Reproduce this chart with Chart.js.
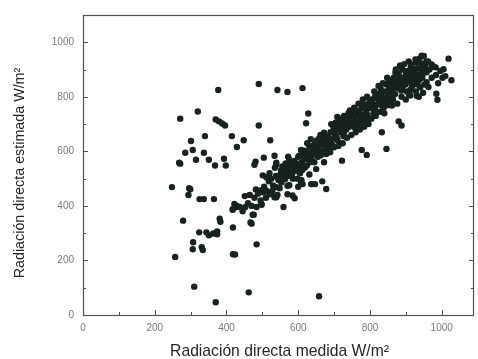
<!DOCTYPE html>
<html>
<head>
<meta charset="utf-8">
<script src="https://cdn.jsdelivr.net/npm/chart.js@4"></script>
<style>
  body { margin: 0; background: #fff; }
  #wrap { width: 478px; height: 359px; }
</style>
</head>
<body>
<div id="wrap"><canvas id="radiacion" width="478" height="359"></canvas></div>
<script>
// radiacion directa medida (x) vs estimada (y), W/m2
var medida = [
  271, 320, 377, 370, 379, 388, 396, 415, 429, 340, 301, 285, 306, 337, 315, 351, 393, 268, 368, 398,
  248, 299, 294, 325, 337, 365, 279, 307, 306, 331, 334, 257, 324, 344, 351, 363, 374, 374, 381, 383,
  418, 418, 424, 310, 370, 417, 422, 429, 451, 437, 467, 476, 484, 498, 484, 462, 658, 497, 505, 525,
  539, 539, 559, 570, 584, 590, 608, 636, 647, 678, 490, 542, 570, 612, 628, 622, 490, 448, 522, 504,
  478, 534, 539, 575, 722, 791, 846, 777, 833, 888, 880, 1019, 1027, 1010, 988, 985, 501, 520, 542, 567,
  553, 575, 501, 520, 534, 542, 570, 418, 473, 470, 296, 271, 428, 511, 639, 667, 631, 481, 539, 603,
  617, 631, 653, 603, 497, 497, 547, 609,
  // nube central
  445, 452, 460, 470, 478, 488, 495, 500, 482, 465,
  505, 512, 518, 525, 530, 538, 545, 552, 558, 520, 535, 548, 556, 510, 528,
  562, 568, 575, 580, 586, 590, 595, 600, 605, 610, 615, 618, 572, 598, 608, 585, 600, 612,
  622, 628, 632, 638, 642, 648, 652, 655, 660, 665, 670, 675, 678, 625, 645, 662, 672, 680, 650, 635,
  682, 686, 690, 694, 698, 702, 706, 710, 714, 718, 722, 726, 730, 734, 738, 688, 700, 712, 724, 736, 692, 704, 716, 728, 740,
  742, 746, 750, 754, 758, 762, 766, 770, 774, 778, 782, 786, 790, 794, 798, 748, 760, 772, 784, 796, 756, 768, 780, 792, 744,
  802, 806, 810, 814, 818, 822, 826, 830, 834, 838, 842, 846, 850, 854, 858, 804, 816, 828, 840, 852, 812, 824, 836, 848, 856, 860,
  862, 866, 870, 874, 878, 882, 886, 890, 894, 898, 902, 906, 910, 914, 918, 864, 876, 888, 900, 912, 872, 884, 896, 908, 920,
  922, 926, 930, 934, 938, 942, 946, 950, 954, 958, 928, 940, 952, 936, 948,
  944, 927, 916, 972, 983, 1005, 958, 963, 941, 899, 880, 866, 852, 833, 825, 844, 861, 908, 930, 916,
  962, 966, 972, 978, 984, 990, 996, 1002,
  604, 617, 629, 643, 657, 669, 683, 697, 611, 624, 637, 651, 663, 676, 689, 633, 646, 659, 672, 694,
  707, 713, 721, 727, 733, 741, 749, 757, 763, 771, 779, 787, 793, 799, 709, 731, 753, 767, 789, 777,
  807, 813, 821, 829, 833, 843, 849, 857, 863, 869, 877, 883, 891, 897, 817, 839, 853, 871, 887, 899,
  903, 909, 917, 923, 931, 937, 943, 951, 957, 913, 933, 947,
  563, 571, 579, 589, 597, 583, 565
];
var estimada = [
  720, 746, 825, 717, 710, 702, 695, 656, 616, 656, 638, 595, 605, 595, 569, 569, 573, 558, 548, 548,
  469, 461, 440, 425, 425, 425, 346, 267, 241, 249, 238, 213, 303, 303, 292, 299, 306, 296, 353, 342,
  321, 223, 222, 104, 47, 386, 407, 400, 436, 396, 339, 368, 396, 404, 259, 83, 69, 453, 453, 448,
  432, 469, 396, 474, 438, 428, 487, 480, 480, 462, 847, 825, 818, 832, 739, 703, 695, 641, 641, 577,
  551, 584, 558, 569, 566, 587, 609, 605, 670, 695, 710, 940, 861, 876, 789, 811, 512, 497, 504, 515,
  486, 476, 450, 443, 432, 440, 443, 389, 368, 335, 465, 555, 396, 505, 480, 490, 515, 562, 551, 584,
  602, 620, 631, 548, 458, 407, 512, 494,
  // nube central
  380, 395, 410, 400, 430, 445, 420, 455, 460, 440,
  470, 455, 490, 500, 475, 510, 495, 530, 505, 520, 540, 465, 545, 430, 455,
  520, 540, 510, 555, 530, 565, 545, 580, 520, 560, 590, 540, 580, 500, 605, 500, 470, 480,
  575, 600, 560, 620, 590, 610, 640, 580, 625, 600, 650, 620, 590, 630, 560, 660, 560, 640, 535, 645,
  655, 630, 670, 645, 690, 660, 680, 640, 700, 670, 690, 655, 710, 680, 700, 610, 615, 620, 630, 650, 700, 705, 720, 730, 740,
  690, 720, 700, 740, 710, 730, 690, 750, 720, 760, 735, 770, 745, 710, 780, 660, 670, 680, 690, 700, 760, 775, 790, 800, 750,
  760, 790, 740, 800, 770, 810, 780, 830, 795, 760, 820, 845, 800, 830, 860, 720, 730, 745, 740, 770, 820, 840, 850, 870, 780, 815,
  840, 870, 810, 855, 885, 830, 860, 900, 845, 875, 820, 890, 860, 910, 840, 790, 775, 800, 790, 805, 900, 915, 920, 930, 880,
  900, 860, 925, 880, 940, 905, 870, 950, 915, 890, 820, 835, 845, 800, 815,
  951, 937, 919, 919, 908, 901, 854, 836, 883, 894, 883, 847, 822, 804, 793, 768, 768, 811, 804, 847,
  930, 900, 870, 910, 880, 850, 895, 870,
  555, 571, 588, 603, 612, 633, 648, 672, 532, 548, 575, 597, 586, 609, 597, 605, 628, 648, 668, 626,
  651, 683, 705, 667, 722, 708, 731, 688, 745, 728, 705, 757, 733, 762, 726, 695, 717, 703, 719, 776,
  775, 758, 793, 812, 768, 795, 819, 841, 808, 832, 851, 868, 838, 862, 745, 781, 857, 889, 823, 845,
  873, 896, 871, 887, 903, 862, 921, 898, 930, 826, 845, 884,
  498, 527, 538, 551, 528, 517, 556
];
var xTicks = [0, 200, 400, 600, 800, 1000];
var yTicks = [0, 200, 400, 600, 800, 1000];

var puntos = medida.map(function(v, i) { return { x: v, y: estimada[i] }; });

var ejeColor = '#4d534e';

// marco, marcas hacia dentro y titulos de los ejes
var marco = {
  id: 'marco',
  beforeDatasetsDraw: function(chart) {
    var c = chart.ctx, a = chart.chartArea;
    var sx = chart.scales.x, sy = chart.scales.y;
    c.save();
    c.strokeStyle = ejeColor;
    c.lineWidth = 1.2;
    c.strokeRect(a.left + 0.5, a.top + 0.5, a.right - a.left - 1, a.bottom - a.top);
    c.lineWidth = 1;
    c.beginPath();
    for (var v = 0; v <= 1000; v += 100) {
      var len = v % 200 === 0 ? 5 : 3;
      var px = Math.round(sx.getPixelForValue(v)) + 0.5;
      c.moveTo(px, a.bottom); c.lineTo(px, a.bottom - len);
      var py = Math.round(sy.getPixelForValue(v)) + 0.5;
      c.moveTo(a.left, py); c.lineTo(a.left + len, py);
      c.moveTo(a.right, py); c.lineTo(a.right - len, py);
    }
    c.stroke();
    c.restore();
  },
  afterDraw: function(chart) {
    var c = chart.ctx, a = chart.chartArea;
    c.save();
    c.fillStyle = '#262626';
    c.textAlign = 'center';
    c.textBaseline = 'middle';
    c.font = '15.7px "Liberation Sans", Arial, sans-serif';
    c.fillText('Radiación directa medida W/m²', (a.left + a.right) / 2 + 1, 352);
    c.font = '14.3px "Liberation Sans", Arial, sans-serif';
    c.translate(20, 173);
    c.rotate(-Math.PI / 2);
    c.fillText('Radiación directa estimada W/m²', 0, 0);
    c.restore();
  }
};

var ctx = document.getElementById('radiacion').getContext('2d');
var chart = new Chart(ctx, {
  type: 'scatter',
  data: {
    datasets: [{
      label: 'Radiación directa',
      data: puntos,
      backgroundColor: '#17231c',
      borderColor: '#17231c',
      pointRadius: 3.2,
      borderWidth: 0
    }]
  },
  options: {
    responsive: false,
    animation: false,
    layout: { padding: { top: 10, right: 1, left: 0, bottom: 0 } },
    plugins: {
      legend: { display: false },
      tooltip: { enabled: false }
    },
    scales: {
      x: {
        type: 'linear',
        min: 0,
        max: 1090,
        grid: { display: false, drawTicks: false },
        border: { display: false },
        afterFit: function(s) { s.height = 44; },
        afterBuildTicks: function(s) { s.ticks = xTicks.map(function(v) { return { value: v }; }); },
        ticks: {
          padding: 7,
          color: '#7a7a7a',
          font: { size: 10, family: '"Liberation Sans", Arial, sans-serif' },
          callback: function(v) { return String(v); }
        }
      },
      y: {
        type: 'linear',
        min: 0,
        max: 1100,
        grid: { display: false, drawTicks: false },
        border: { display: false },
        afterFit: function(s) { s.width = 83; },
        afterBuildTicks: function(s) { s.ticks = yTicks.map(function(v) { return { value: v }; }); },
        ticks: {
          padding: 9,
          color: '#7a7a7a',
          font: { size: 10, family: '"Liberation Sans", Arial, sans-serif' },
          callback: function(v) { return String(v); }
        }
      }
    }
  },
  plugins: [marco]
});
</script>
</body>
</html>
